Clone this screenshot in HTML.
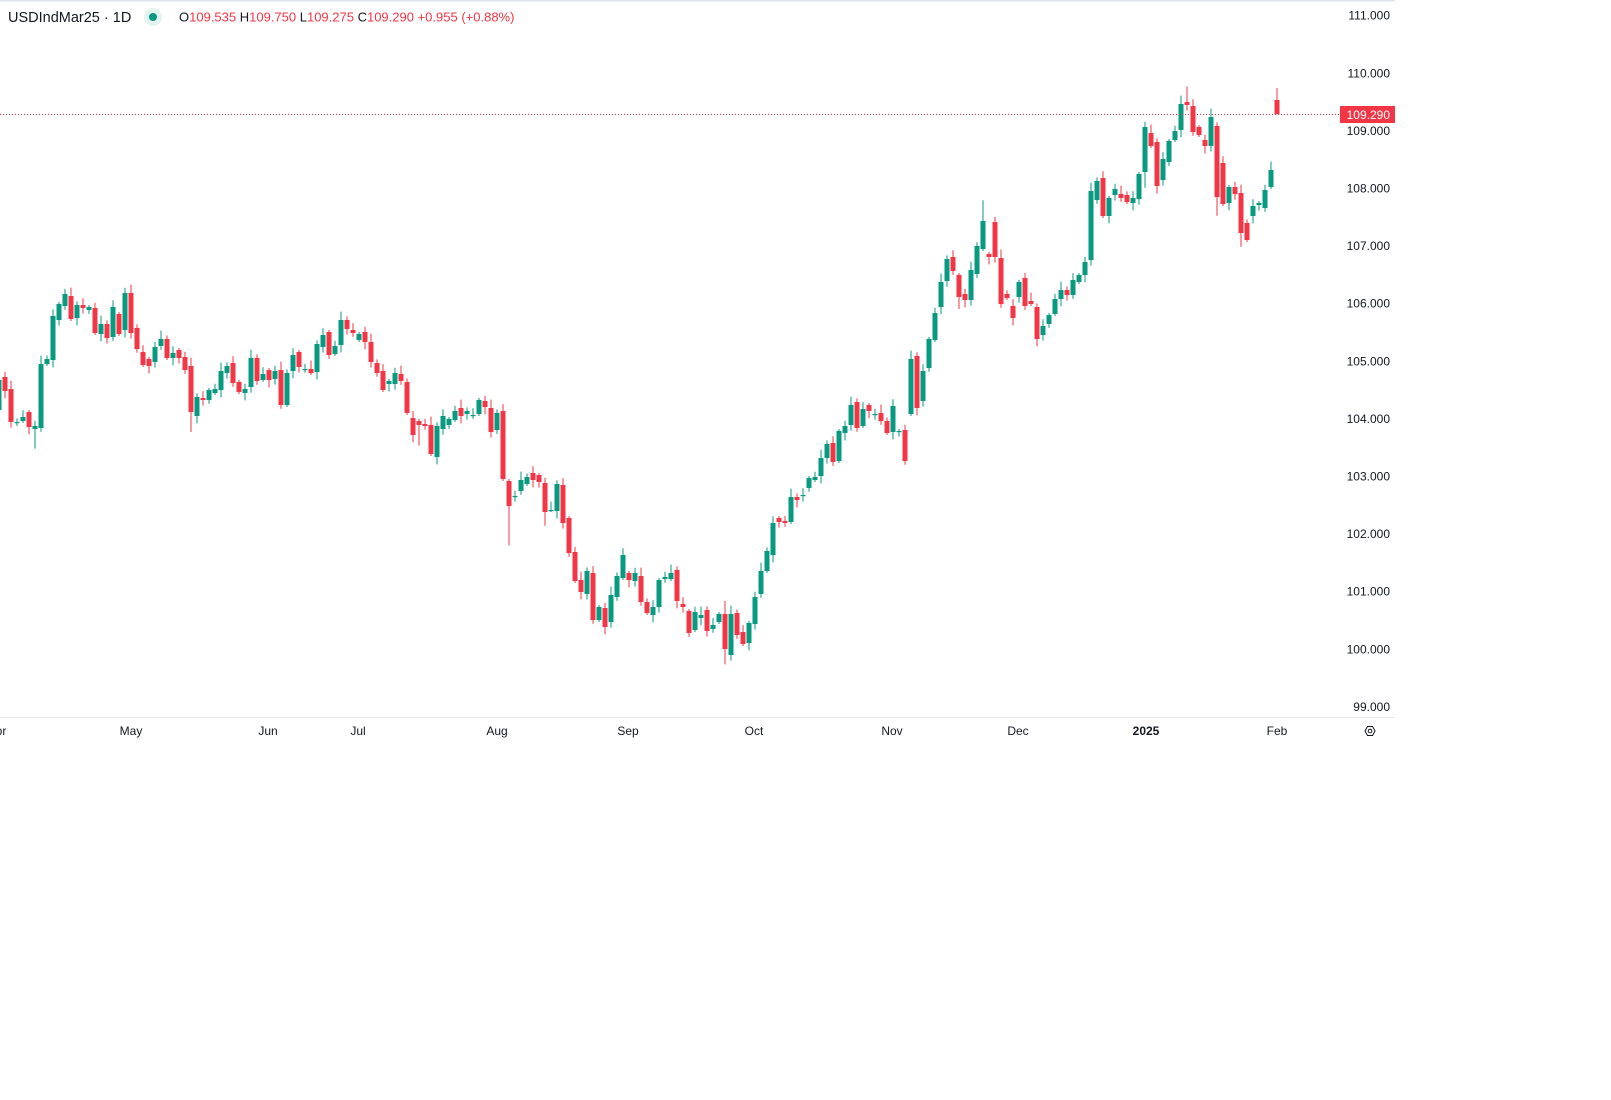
<!DOCTYPE html>
<html><head><meta charset="utf-8">
<style>
html,body{margin:0;padding:0;background:#fff;width:1611px;height:1100px;overflow:hidden}
svg{position:absolute;left:0;top:0}
text{font-family:"Liberation Sans",sans-serif}
</style></head><body>
<svg id="s" width="1611" height="1100" xmlns="http://www.w3.org/2000/svg">
<rect x="0" y="0" width="1395" height="1.5" fill="#e0e3eb"/>
<line x1="0" y1="717.5" x2="1395" y2="717.5" stroke="#e0e3eb" stroke-width="1"/>
<g id="c"></g>
<line x1="0" y1="114.5" x2="1340" y2="114.5" stroke="#f23645" stroke-width="1" stroke-dasharray="1,2"/>
<g font-size="12" fill="#131722" text-anchor="end" id="py"></g>
<rect x="1340" y="106" width="55" height="17" fill="#f23645"/>
<text x="1390" y="119" font-size="12" fill="#fff" text-anchor="end">109.290</text>
<g font-size="12" fill="#131722" text-anchor="middle">
<text x="-3" y="735">Apr</text>
<text x="131" y="735">May</text>
<text x="268" y="735">Jun</text>
<text x="358" y="735">Jul</text>
<text x="497" y="735">Aug</text>
<text x="628" y="735">Sep</text>
<text x="754" y="735">Oct</text>
<text x="892" y="735">Nov</text>
<text x="1018" y="735">Dec</text>
<text x="1146" y="735" font-weight="bold">2025</text>
<text x="1277" y="735">Feb</text>
</g>
<polygon points="1365,731 1367.5,726.5 1372.5,726.5 1375,731 1372.5,735.5 1367.5,735.5" fill="none" stroke="#131722" stroke-width="1"/>
<circle cx="1370" cy="731" r="1.8" fill="none" stroke="#131722" stroke-width="1"/>
<text x="8" y="22" font-size="14.5" fill="#131722">USDIndMar25 · 1D</text>
<circle cx="153" cy="17" r="9" fill="#e3f3ef"/>
<circle cx="153" cy="17" r="4" fill="#089981"/>
<text x="179" y="21.5" font-size="13" fill="#131722">O<tspan fill="#f23645">109.535</tspan>  H<tspan fill="#f23645">109.750</tspan>  L<tspan fill="#f23645">109.275</tspan>  C<tspan fill="#f23645">109.290</tspan>  <tspan fill="#f23645">+0.955 (+0.88%)</tspan></text>
</svg>
<script>
var py=document.getElementById('py'),h='';
for(var p=99;p<=111;p++){var y=15.7+(111-p)*57.6;h+='<text x="1390" y="'+(y+4).toFixed(1)+'">'+p+'.000</text>';}
py.innerHTML=h;
var d=[[410,380],[377,391],[389,422],[422,422],[421,417],[412,427],[429,426],[428,364],[364,359],[360,316],[320,304],[306,294],[296,319],[318,305],[305,308],[310,307],[308,333],[334,324],[324,338],[337,307],[314,334],[330,293],[293,333],[328,349],[352,365],[359,366],[362,347],[346,339],[339,358],[358,353],[350,358],[357,370],[366,412],[416,397],[398,400],[400,390],[393,389],[390,371],[373,366],[363,383],[382,392],[393,389],[387,358],[358,381],[380,374],[370,380],[379,371],[370,405],[405,373],[371,355],[352,367],[369,369],[369,373],[372,344],[347,335],[332,355],[354,346],[345,320],[320,329],[330,333],[340,334],[332,342],[342,362],[363,373],[371,390],[384,381],[384,373],[374,381],[382,413],[418,435],[421,425],[424,426],[425,454],[457,426],[429,416],[425,419],[420,411],[408,416],[414,411],[415,415],[414,400],[401,407],[408,432],[430,413],
[411,479],[481,506],[496,496],[491,480],[484,477],[473,480],[475,482],[483,512],[510,510],[511,484],[485,523],[518,553],[552,581],[580,592],[594,571],[573,620],[620,607],[608,627],[622,595],[597,576],[578,555],[573,580],[581,573],[576,602],[602,613],[615,607],[607,580],[579,577],[579,573],[570,601],[604,607],[611,633],[630,612],[618,615],[610,631],[629,625],[622,614],[614,649],[655,614],[613,635],[632,644],[643,623],[624,597],[594,571],[571,551],[555,523],[518,522],[521,523],[522,497],[497,500],[496,495],[488,478],[480,477],[476,458],[458,444],[443,462],[461,431],[433,426],[425,405],[402,428],[426,409],[405,411],[414,414],[413,421],[421,433],[432,406],[431,431],[430,461],[414,359],[356,408],[401,371],[368,339],[340,313],[307,282],[281,259],[257,271],[275,297],[294,300],[300,270],[274,246],[249,221],[254,257],[222,257],[258,304],[294,298],[306,318],[297,282],[278,306],[301,304],[307,339],[335,326],[324,315],[314,299],
[299,290],[290,295],[295,280],[282,275],[275,262],[260,191],[200,181],[178,216],[216,198],[195,189],[194,198],[195,202],[203,198],[199,174],[172,127],[133,146],[142,186],[180,159],[162,141],[140,131],[130,104],[102,105],[106,132],[127,135],[140,146],[146,117],[126,197],[163,204],[203,187],[187,194],[193,233],[223,240],[216,206],[205,203],[208,190],[187,170],[100,114]];
var big={0:[0,10],6:[0,14],32:[0,18],70:[0,15],85:[0,32],91:[0,10],121:[8,8],160:[0,10],164:[14,0],191:[0,12],198:[12,0],203:[0,15],207:[0,10],213:[12,0]};
var g='';
for(var i=0;i<d.length;i++){
 var o=d[i][0],c=d[i][1],x=6*i-1;
 var col=c>o?'#f23645':'#089981';
 var t=Math.min(o,c),b=Math.max(o,c);
 var w1=2+((i*7)%5)*1.6,w2=2+((i*11)%4)*1.8;
 if(big[i]){w1+=big[i][0];w2+=big[i][1];}
 if(i==213){w1=12;w2=0.5;}
 g+='<rect x="'+(x-0.5)+'" y="'+(t-w1)+'" width="1" height="'+(b-t+w1+w2)+'" fill="'+col+'"/>';
 g+='<rect x="'+(x-2.5)+'" y="'+t+'" width="5" height="'+Math.max(b-t,1.2)+'" fill="'+col+'"/>';
}
document.getElementById('c').innerHTML=g;
</script>
</body></html>
